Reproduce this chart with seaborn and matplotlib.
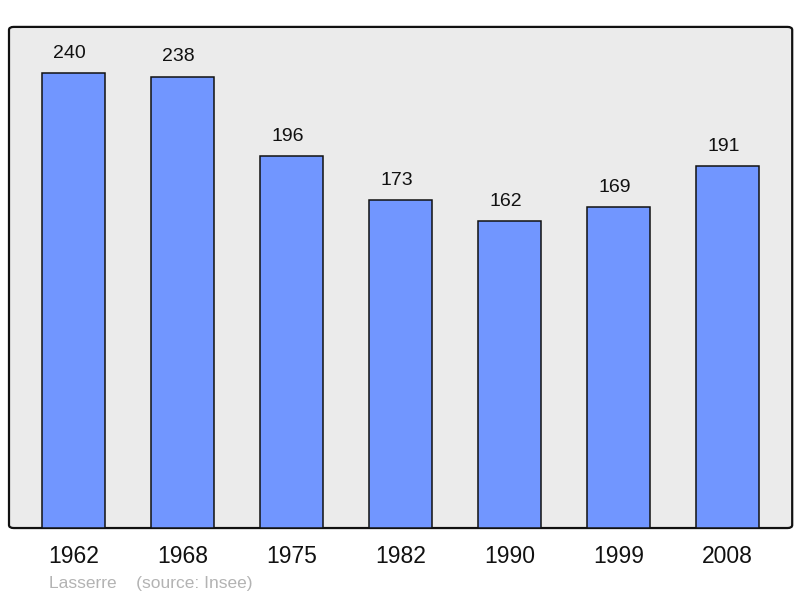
import pandas as pd
import seaborn as sns
import matplotlib.pyplot as plt
import matplotlib.transforms as mtransforms
from matplotlib.patches import FancyBboxPatch

# 데이터
years = ["1962", "1968", "1975", "1982", "1990", "1999", "2008"]
population = [240, 238, 196, 173, 162, 169, 191]

sns.set_style("white")
plt.rcParams["font.family"] = ["Liberation Sans", "DejaVu Sans"]

df = pd.DataFrame({"year": years, "pop": population})

fig = plt.figure(figsize=(8, 5.98), dpi=100)
ax = fig.add_axes([0.01125, 0.117, 0.979, 0.838])
ax.set_facecolor("none")

# 둥근 모서리 배경
bg = FancyBboxPatch((0, 0), 1, 1, boxstyle="round,pad=0,rounding_size=0.006",
                    transform=ax.transAxes, facecolor="#ebebeb",
                    edgecolor="#111111", linewidth=1.6, zorder=0, clip_on=False)
ax.add_patch(bg)

sns.barplot(data=df, x="year", y="pop", order=years, color="#7196ff",
            saturation=1, width=0.578, edgecolor="#111111", linewidth=1.1, ax=ax, zorder=2)

# 막대 위 값 표시 (살짝 왼쪽으로)
shift = mtransforms.ScaledTranslation(-4 / 100, 0, fig.dpi_scale_trans)
for i, v in enumerate(population):
    ax.text(i, v + 8, str(v), ha="center", va="baseline", fontsize=14,
            color="#111111", transform=ax.transData + shift)

ax.set_xlim(-0.592, 6.592)
ax.set_ylim(0, 264.2)
ax.set_yticks([])
ax.set_xlabel("")
ax.set_ylabel("")
for s in ax.spines.values():
    s.set_visible(False)
ax.tick_params(axis="x", length=0, pad=12, labelsize=16.5, colors="#111111")

fig.text(0.061, 0.016, "Lasserre    (source: Insee)", fontsize=12.5, color="#b3b3b3")

fig.savefig("out.png", dpi=100)
